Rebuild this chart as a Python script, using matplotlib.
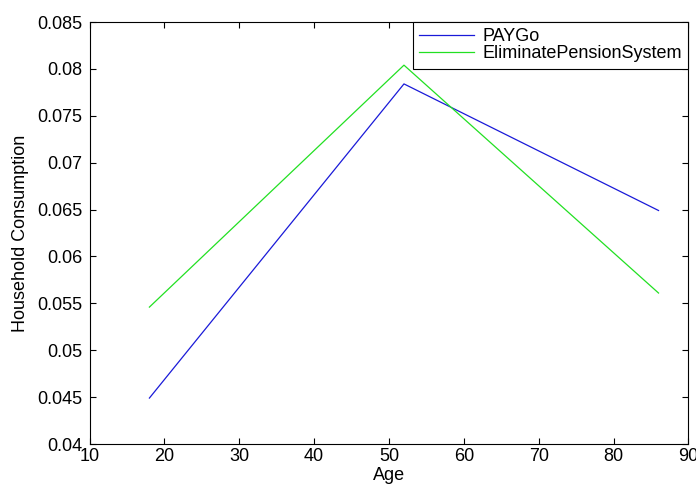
import matplotlib
matplotlib.use('Agg')
import matplotlib.pyplot as plt
from matplotlib.ticker import FormatStrFormatter, MultipleLocator

plt.rcParams['font.family'] = ['Liberation Sans', 'DejaVu Sans']

# household consumption over the life cycle
age = [18, 52, 86]
paygo = [0.0449, 0.0784, 0.0649]
eliminate = [0.0546, 0.0804, 0.0561]

fig = plt.figure(figsize=(6.96, 4.86), dpi=100)
ax = fig.add_axes([0.1286, 0.0864, 0.8606, 0.8683])

ax.plot(age, paygo, color='#1a1ad8', linewidth=0.9, label='PAYGo')
ax.plot(age, eliminate, color='#22e022', linewidth=0.9, label='EliminatePensionSystem')

ax.set_xlim(10, 90)
ax.set_ylim(0.04, 0.085)
ax.xaxis.set_major_locator(MultipleLocator(10))
ax.yaxis.set_major_locator(MultipleLocator(0.005))
ax.yaxis.set_major_formatter(FormatStrFormatter('%g'))

ax.tick_params(direction='in', length=4.3, width=0.8, top=True, right=True,
               labelsize=13, colors='black')
ax.tick_params(axis='x', pad=3)
ax.tick_params(axis='y', pad=5)
for s in ax.spines.values():
    s.set_linewidth(0.8)
    s.set_color('black')

ax.set_xlabel('Age', fontsize=13, labelpad=1.5)
ax.set_ylabel('Household Consumption', fontsize=13, labelpad=6)

leg = ax.legend(loc='upper right', borderaxespad=0, fontsize=13, fancybox=False,
                framealpha=1, edgecolor='black', handlelength=3.0,
                handletextpad=0.5, borderpad=0.35, labelspacing=0.0)
leg.get_frame().set_linewidth(0.8)

fig.savefig('out.png', dpi=100)
